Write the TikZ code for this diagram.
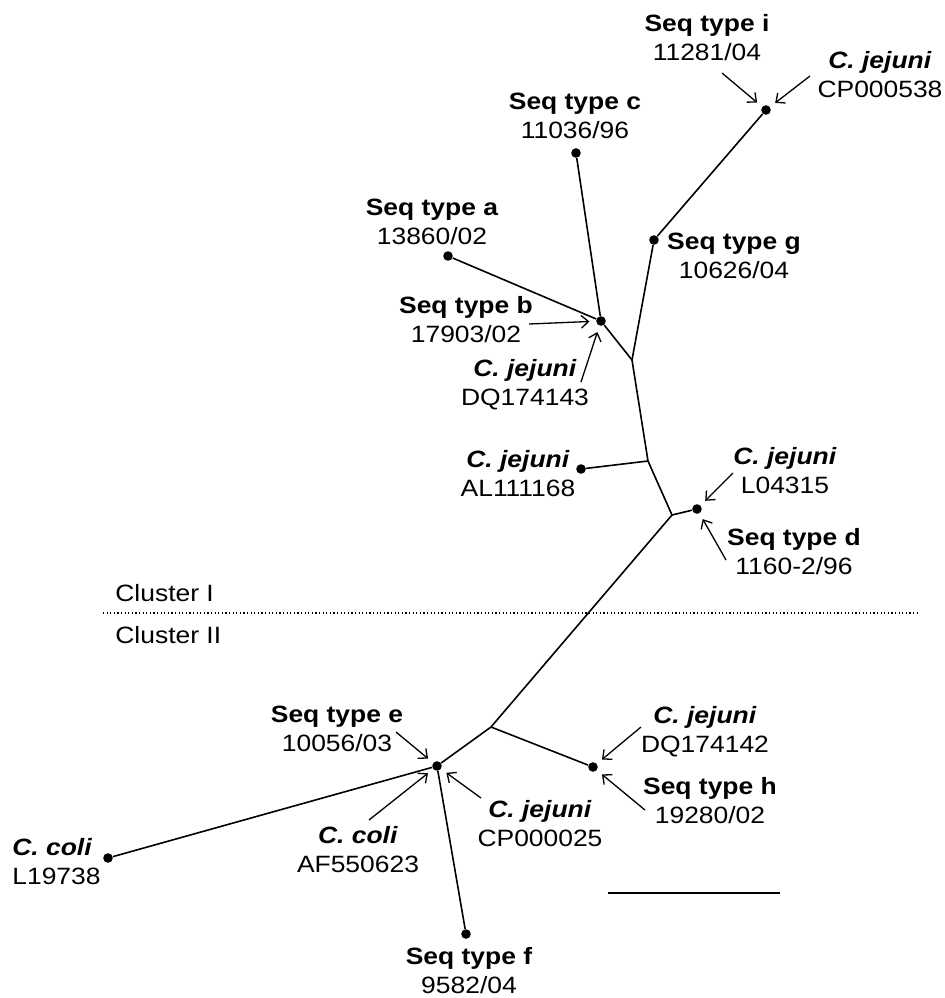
\documentclass[tikz,border=0pt]{standalone}
\usepackage{fontspec}
\setmainfont{Liberation Sans}[FakeStretch=1.12]
\usetikzlibrary{arrows.meta}
\newcommand{\cjej}{\textbf{\textit{C. jejuni}}}
\newcommand{\ccol}{\textbf{\textit{C. coli}}}
\tikzset{leaf/.style={circle, fill=black, inner sep=0pt, minimum size=4.8pt},
  lbl/.style={align=center, inner sep=0pt},
  branch/.style={line width=0.8pt},
  pointer/.style={-{Straight Barb[length=3.6pt,width=6.4pt]}, line width=0.65pt, shorten >=3.2pt}}

\begin{document}
\begin{tikzpicture}[x=0.5pt,y=-0.5pt,font=\fontsize{11.8}{14.5}\selectfont]
  \useasboundingbox (0,0) rectangle (945,998);
  % branch points
  \coordinate (j1) at (632,360);
  \coordinate (j2) at (648,461);
  \coordinate (j3) at (672,515);
  \coordinate (j4) at (491,727);
  % sequences
  \node[leaf] (ni) at (766,110) {};
  \node[leaf] (ng) at (654,240) {};
  \node[leaf] (nc) at (576,153) {};
  \node[leaf] (na) at (448,256) {};
  \node[leaf] (nb) at (601,321) {};
  \node[leaf] (nal) at (581,469) {};
  \node[leaf] (nd) at (697,509) {};
  \node[leaf] (nh) at (593,767) {};
  \node[leaf] (ne) at (437,766) {};
  \node[leaf] (nl) at (108,858) {};
  \node[leaf] (nf) at (466,934) {};
  % tree
  \draw[branch] (ni) -- (ng) -- (j1) -- (j2) -- (j3) -- (j4) -- (ne);
  \draw[branch] (nc) -- (nb) -- (j1);
  \draw[branch] (na) -- (nb);
  \draw[branch] (nal) -- (j2);
  \draw[branch] (j3) -- (nd);
  \draw[branch] (j4) -- (nh);
  \draw[branch] (ne) -- (nl);
  \draw[branch] (ne) -- (nf);
  % labels
  \node[lbl] (li) at (707,38) {\textbf{Seq type i}\\11281/04};
  \node[lbl] (lcp538) at (880,75) {\cjej\\CP000538};
  \node[lbl] (lc) at (575,116) {\textbf{Seq type c}\\11036/96};
  \node[lbl] (la) at (432,222) {\textbf{Seq type a}\\13860/02};
  \node[lbl] (lg) at (734,256) {\textbf{Seq type g}\\10626/04};
  \node[lbl] (lb) at (466,320) {\textbf{Seq type b}\\17903/02};
  \node[lbl] (ldq143) at (525,385) {\cjej\\DQ174143};
  \node[lbl] (lal) at (518,474) {\cjej\\AL111168};
  \node[lbl] (ll04) at (785,471) {\cjej\\L04315};
  \node[lbl] (ld) at (794,552) {\textbf{Seq type d}\\1160-2/96};
  \node[lbl] (le) at (337,729) {\textbf{Seq type e}\\10056/03};
  \node[lbl] (ldq142) at (705,732) {\cjej\\DQ174142};
  \node[lbl] (lh) at (710,801) {\textbf{Seq type h}\\19280/02};
  \node[lbl] (lcp25) at (540,824) {\cjej\\CP000025};
  \node[lbl] (laf) at (358,850) {\ccol\\AF550623};
  \node[lbl, align=left, anchor=west] (ll19) at (12,862) {\ccol\\L19738};
  \node[lbl] (lf) at (469,971) {\textbf{Seq type f}\\9582/04};
  % pointers
  \coordinate (ai) at (722,73);
  \coordinate (acp538) at (810,76);
  \coordinate (ab) at (529,324);
  \coordinate (adq143) at (581,382);
  \coordinate (al04) at (733,473);
  \coordinate (ad) at (726,560);
  \coordinate (ae) at (396,732);
  \coordinate (adq142) at (641,727);
  \coordinate (ah) at (645,810);
  \coordinate (acp25) at (481,798);
  \coordinate (aaf) at (369,820);
  \draw[pointer] (ai) -- (ni);
  \draw[pointer] (acp538) -- (ni);
  \draw[pointer] (ab) -- (nb);
  \draw[pointer] (adq143) -- (nb);
  \draw[pointer] (al04) -- (nd);
  \draw[pointer] (ad) -- (nd);
  \draw[pointer] (ae) -- (ne);
  \draw[pointer] (acp25) -- (ne);
  \draw[pointer] (aaf) -- (ne);
  \draw[pointer] (adq142) -- (nh);
  \draw[pointer] (ah) -- (nh);
  % clusters
  \coordinate (c0) at (103,613);
  \coordinate (c1) at (918,613);
  \draw[line width=0.6pt, dash pattern=on 0.6pt off 1.2pt] (c0) -- (c1);
  \node[lbl, anchor=west] (lcI) at (115,593) {Cluster I};
  \node[lbl, anchor=west] (lcII) at (115,635) {Cluster II};
  % scale bar
  \coordinate (s0) at (608,893);
  \coordinate (s1) at (780,893);
  \draw[branch] (s0) -- (s1);
\end{tikzpicture}
\end{document}
